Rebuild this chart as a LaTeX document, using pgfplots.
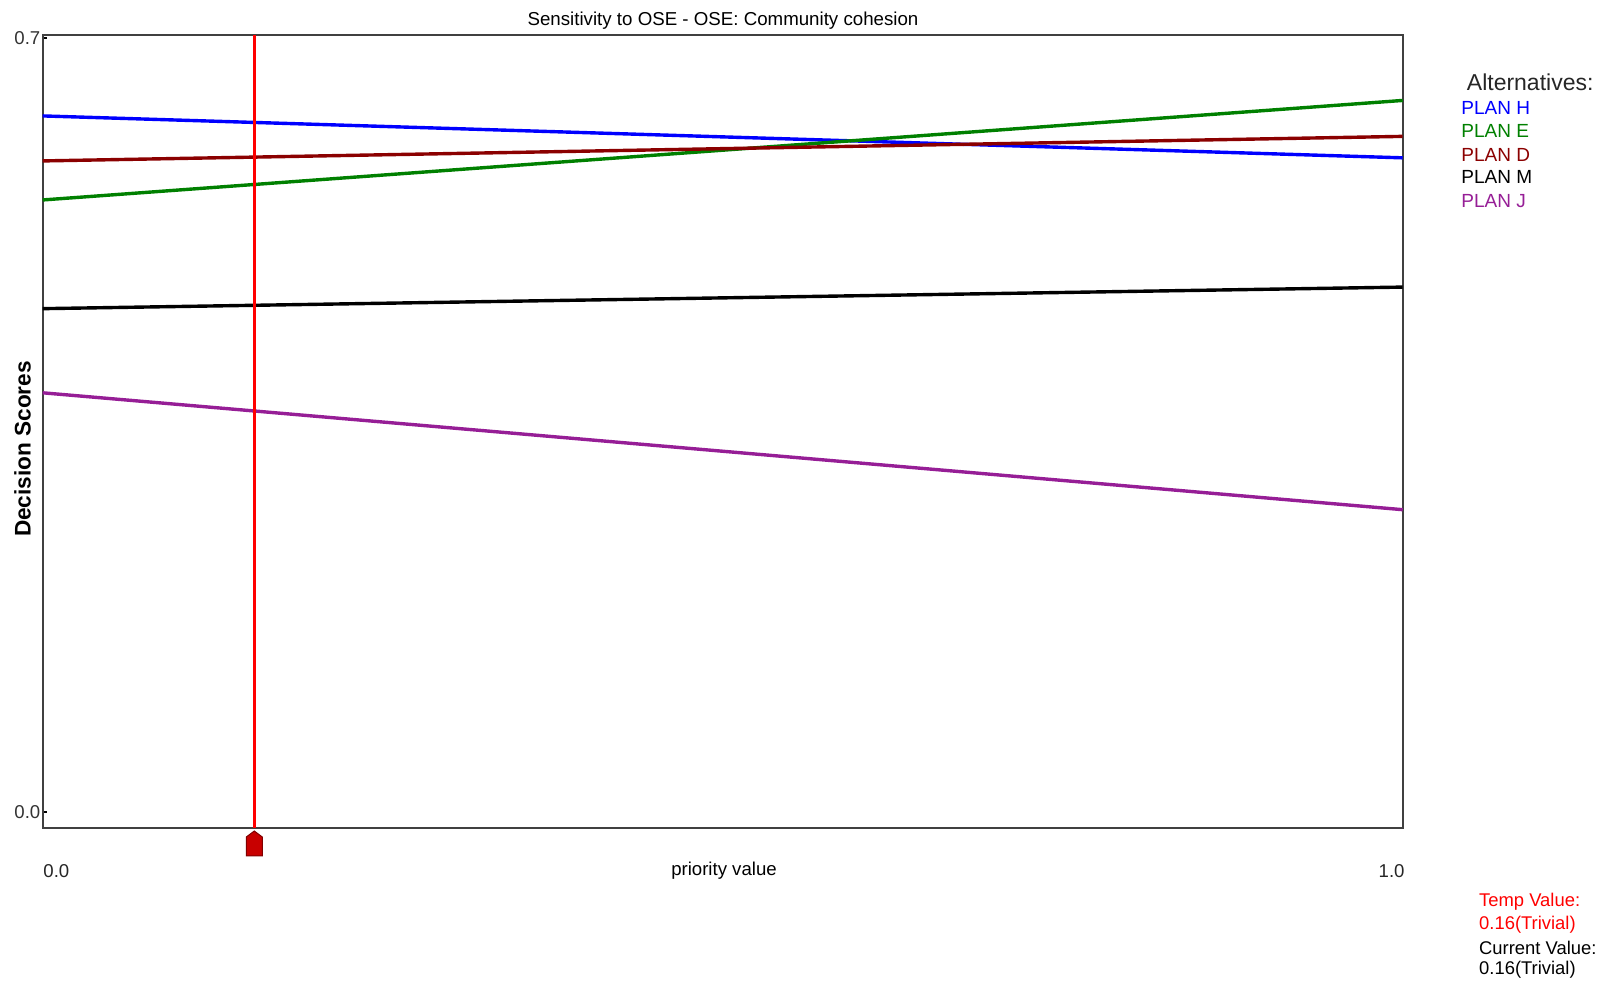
\documentclass[border=0pt]{standalone}
\usepackage{pgfplots}
\pgfplotsset{compat=1.18}
\usepackage{fontspec}
\setmainfont{Liberation Sans}
\definecolor{cH}{RGB}{0,0,255}
\definecolor{cE}{RGB}{0,128,0}
\definecolor{cD}{RGB}{139,0,0}
\definecolor{cM}{RGB}{0,0,0}
\definecolor{cJ}{RGB}{150,30,150}
\definecolor{mk}{RGB}{200,0,0}
\pgfdeclareplotmark{slider}{%
  \pgfpathmoveto{\pgfqpoint{0pt}{-1.5pt}}%
  \pgfpathlineto{\pgfqpoint{-4pt}{-4.5pt}}%
  \pgfpathlineto{\pgfqpoint{-4pt}{-14pt}}%
  \pgfpathlineto{\pgfqpoint{4pt}{-14pt}}%
  \pgfpathlineto{\pgfqpoint{4pt}{-4.5pt}}%
  \pgfpathclose
  \pgfusepathqfillstroke}
\begin{document}
\begin{tikzpicture}
\path[use as bounding box] (0,0) rectangle (804pt,492.5pt);
\begin{axis}[
  at={(21.35pt,78.5pt)}, anchor=south west,
  scale only axis, width=680pt, height=396.5pt,
  xmin=0, xmax=1, ymin=-0.01447, ymax=0.7027,
  xtick=\empty,
  ytick={0,0.7}, yticklabels={0.0,0.7},
  ytick pos=left,
  major tick length=2pt,
  ytick style={black, line width=0.6pt},
  yticklabel style={font=\fontsize{9.3}{11}\selectfont, color=black!80, inner sep=1pt},
  /pgf/number format/assume math mode=true,
  axis line style={black!75, line width=1pt},
  clip=false,
]
\addplot[cH, line width=1.7pt] coordinates {(0,0.6295) (1,0.5916)};
\addplot[cE, line width=1.7pt] coordinates {(0,0.5535) (1,0.6435)};
\addplot[cD, line width=1.7pt] coordinates {(0,0.5888) (1,0.6110)};
\addplot[cM, line width=1.7pt] coordinates {(0,0.4552) (1,0.4747)};
\addplot[cJ, line width=1.7pt] coordinates {(0,0.3791) (1,0.2734)};
\addplot[red, line width=1.5pt] coordinates {(0.1556,-0.01447) (0.1556,0.7027)};
\addplot[only marks, mark=slider, mark options={fill=mk, draw=red!50!black, line width=0.5pt}] coordinates {(0.1556,-0.01447)};
\end{axis}
\node[font=\fontsize{9.35}{11}\selectfont] at (361.5pt,482.25pt) {Sensitivity to OSE - OSE: Community cohesion};
\node[font=\bfseries\fontsize{11.3}{13}\selectfont, rotate=90] at (11.3pt,268pt) {Decision Scores};
\node[font=\fontsize{9.3}{11}\selectfont] at (362pt,57.15pt) {priority value};
\node[font=\fontsize{9.3}{11}\selectfont, color=black!85] at (28.2pt,57.15pt) {0.0};
\node[font=\fontsize{9.3}{11}\selectfont, color=black!85] at (695.8pt,57.15pt) {1.0};
\node[font=\fontsize{11.5}{13}\selectfont, anchor=west, inner sep=0pt, color=black!85] at (733.25pt,451.5pt) {Alternatives:};
\begin{scope}[every node/.style={font=\fontsize{9.5}{11}\selectfont, anchor=west, inner sep=0pt}]
\node[cH] at (730.5pt,438.65pt) {PLAN H};
\node[cE] at (730.5pt,426.85pt) {PLAN E};
\node[cD] at (730.5pt,415.05pt) {PLAN D};
\node[cM] at (730.5pt,403.8pt) {PLAN M};
\node[cJ] at (730.5pt,392pt) {PLAN J};
\end{scope}
\begin{scope}[every node/.style={font=\fontsize{9.2}{11}\selectfont, anchor=west, inner sep=0pt}]
\node[red] at (739.4pt,41.8pt) {Temp Value:};
\node[red] at (739.4pt,30.2pt) {0.16(Trivial)};
\node at (739.4pt,18.7pt) {Current Value:};
\node at (739.4pt,7.5pt) {0.16(Trivial)};
\end{scope}
\end{tikzpicture}
\end{document}
